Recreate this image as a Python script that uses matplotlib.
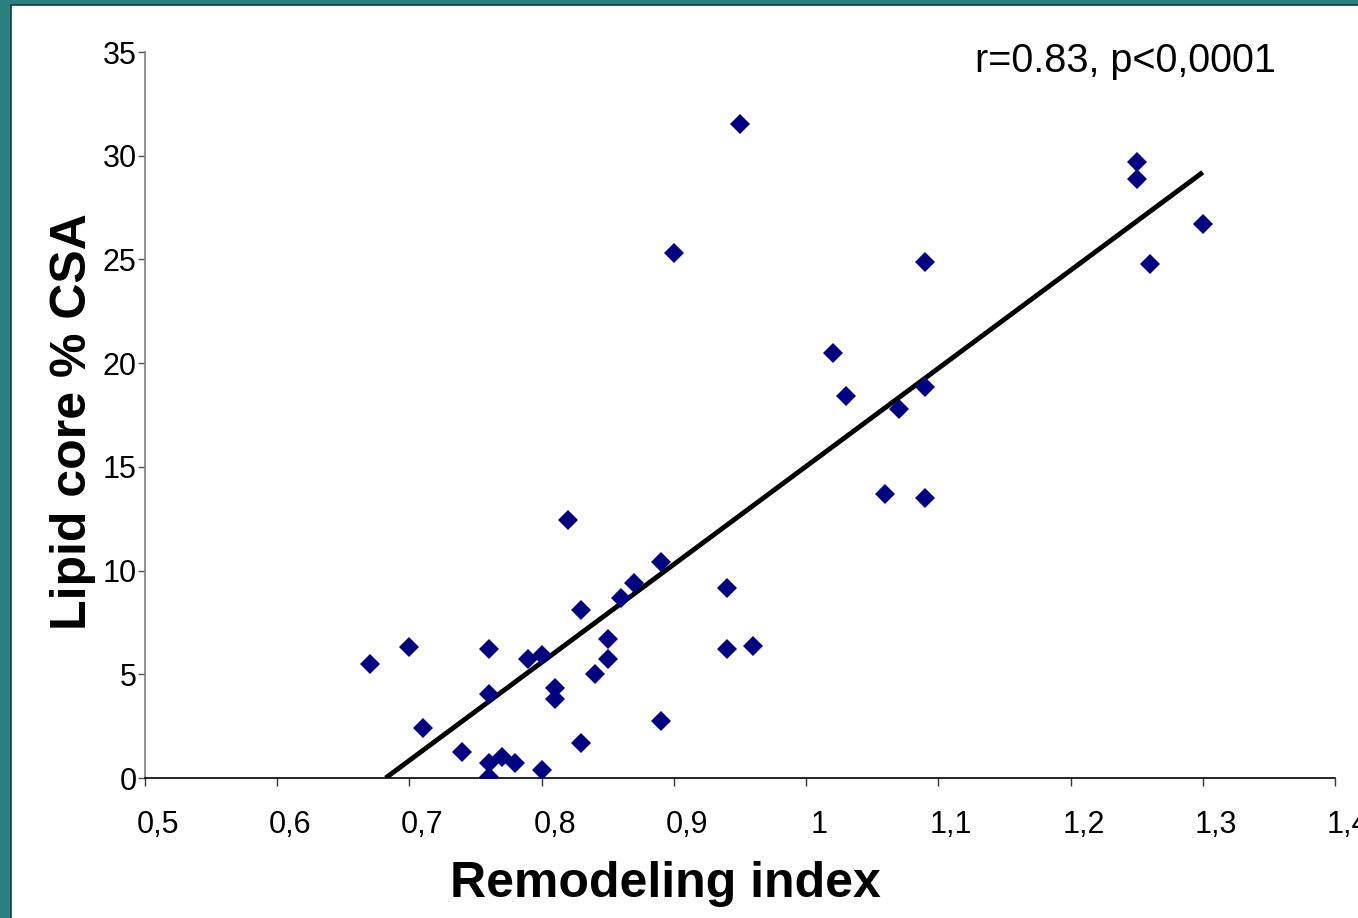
#!/usr/bin/env python3
"""Lipid core % CSA vs remodeling index scatter with regression line."""
import matplotlib
matplotlib.use("Agg")
import matplotlib.pyplot as plt
from matplotlib.patches import Rectangle
from matplotlib.transforms import ScaledTranslation

plt.rcParams["font.family"] = ["Liberation Sans", "DejaVu Sans"]

# data
remodeling = [0.67, 0.70, 0.71, 0.74, 0.76, 0.76, 0.76, 0.76, 0.77, 0.78,
              0.79, 0.80, 0.80, 0.81, 0.81, 0.82, 0.83, 0.83, 0.84, 0.85,
              0.85, 0.86, 0.87, 0.89, 0.89, 0.90, 0.94, 0.94, 0.95, 0.96,
              1.02, 1.03, 1.06, 1.07, 1.09, 1.09, 1.09, 1.25, 1.25, 1.26, 1.30]
lipid_core = [5.5, 6.3, 2.4, 1.25, 6.2, 4.05, 0.7, 0.05, 1.0, 0.7,
              5.75, 5.95, 0.4, 4.35, 3.8, 12.45, 8.1, 1.7, 5.0, 6.7,
              5.75, 8.7, 9.4, 10.4, 2.75, 25.3, 9.15, 6.2, 31.55, 6.35,
              20.5, 18.4, 13.7, 17.8, 24.9, 18.85, 13.5, 29.7, 28.9, 24.8, 26.7]

fit_x = [0.682, 1.30]
fit_y = [0.0, 29.2]

x_ticks = [0.5, 0.6, 0.7, 0.8, 0.9, 1.0, 1.1, 1.2, 1.3, 1.4]
x_tick_labels = ["0,5", "0,6", "0,7", "0,8", "0,9", "1", "1,1", "1,2", "1,3", "1,4"]
y_ticks = [0, 5, 10, 15, 20, 25, 30, 35]

W, H = 1358, 918
fig = plt.figure(figsize=(W / 100, H / 100), dpi=100, facecolor="#2b7f7f")

# white slide panel with thin dark edge, behind the axes
fig.patches.append(Rectangle((11 / W, -0.1), 1.2, 1 - 5 / H + 0.1,
                             transform=fig.transFigure, facecolor="white",
                             edgecolor="#1c3c3c", linewidth=1.2, zorder=-10))

ax = fig.add_axes([145 / W, 1 - 778 / H, (1335 - 145) / W, (778 - 52) / H])
ax.set_facecolor("none")

ax.plot(fit_x, fit_y, color="black", linewidth=3.5, solid_capstyle="butt", zorder=3)
ax.plot(remodeling, lipid_core, linestyle="none", marker="D", markersize=10.5,
        color="#000080", markeredgewidth=0, zorder=4)

ax.set_xlim(0.5, 1.4)
ax.set_ylim(0, 35)
ax.set_xticks(x_ticks, x_tick_labels)
ax.set_yticks(y_ticks)

for side in ("top", "right"):
    ax.spines[side].set_visible(False)
ax.spines["left"].set_color("#808080")
ax.spines["left"].set_linewidth(1.2)
ax.spines["bottom"].set_color("black")
ax.spines["bottom"].set_linewidth(1.2)

ax.tick_params(axis="x", direction="out", length=6, width=1.0, color="#333333",
               labelsize=22, pad=17)
ax.tick_params(axis="y", direction="out", length=5, width=1.0, color="#555555",
               labelsize=22, pad=1)

# x labels sit a little right of their ticks in the original
shift = ScaledTranslation(0.13, 0, fig.dpi_scale_trans)
for label in ax.get_xticklabels():
    label.set_transform(label.get_transform() + shift)

fig.text(975 / W, 1 - 72 / H, "r=0.83, p<0,0001", fontsize=28.5,
         ha="left", va="baseline")
fig.text(665 / W, 1 - 897 / H, "Remodeling index", fontsize=36,
         fontweight="bold", ha="center", va="baseline")
fig.text(73.5 / W, 1 - 422 / H, "Lipid core % CSA", fontsize=36,
         fontweight="bold", rotation=90, ha="center", va="center")

fig.savefig("out.png", dpi=100, facecolor=fig.get_facecolor())
